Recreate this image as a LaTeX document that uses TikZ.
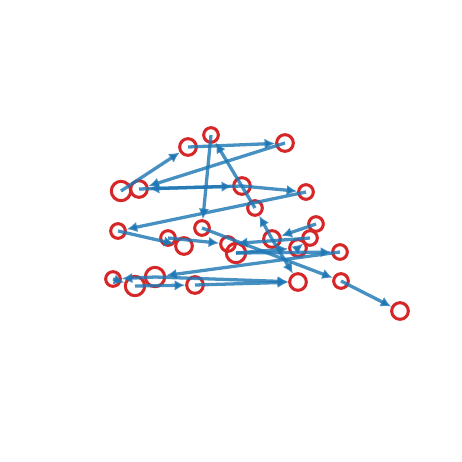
\documentclass[tikz,border=0pt]{standalone}
\usepackage{xcolor}
\usetikzlibrary{arrows.meta,positioning,shapes}
\definecolor{netred}{RGB}{214,39,40}
\definecolor{netblue}{RGB}{31,119,180}

\begin{document}
\begin{tikzpicture}[x = 0.03cm, y = -0.03cm,
		red_node/.style = {circle, draw = netred, line width = 2.6pt, inner sep = 0pt, minimum size = 0.5cm},
		big_node/.style = {red_node, minimum size = 0.58cm},
		small_node/.style = {red_node, minimum size = 0.44cm},
		edge/.style = {->, draw = netblue, draw opacity = 0.82, line width = 2.8pt},
		>={Latex[length = 9pt, width = 9pt]},
		]
		\useasboundingbox (0,0) rectangle (462,462);
		
		%top
		\node[big_node] at (121,191) (1){};
		\node[red_node] at (139,189) (2){};
		\node[red_node] at (188,147) (3){};
		\node[small_node] at (211,135) (4){};
		\node[red_node] at (285,143) (5){};
		\node[red_node] at (242,186) (6){};
		\node[small_node] at (306,192) (7){};
		\node[small_node] at (255,208) (8){};
		
		%middle
		\node[small_node] at (118,231) (9){};
		\node[small_node] at (168,238) (10){};
		\node[red_node] at (184,246) (11){};
		\node[small_node] at (202,228) (12){};
		\node[small_node] at (228,244) (13){};
		\node[big_node] at (236,253) (14){};
		\node[red_node] at (272,239) (15){};
		\node[red_node] at (298,248) (16){};
		\node[small_node] at (316,224) (17){};
		\node[small_node] at (310,238) (18){};
		\node[small_node] at (340,252) (19){};
		
		%bottom
		\node[small_node] at (341,281) (20){};
		\node[red_node] at (400,311) (21){};
		\node[red_node] at (298,282) (22){};
		\node[red_node] at (195,285) (23){};
		\node[big_node] at (155,277) (24){};
		\node[big_node] at (135,286) (25){};
		\node[small_node] at (113,279) (26){};
		
		%edges
		\draw[edge] (1.center) to (3);
		\draw[edge] (3.center) to (5);
		\draw[edge] (5.center) to (2);
		\draw[edge] (2.center) to (6);
		\draw[edge] (6.center) to (2);
		\draw[edge] (6.center) to (7);
		\draw[edge] (7.center) to (9);
		\draw[edge] (4.center) to (12);
		\draw[edge] (8.center) to (4);
		\draw[edge] (15.center) to (8);
		\draw[edge] (9.center) to (11);
		\draw[edge] (10.center) to (13);
		\draw[edge] (12.center) to (20);
		\draw[edge] (20.center) to (21);
		\draw[edge] (15.center) to (22);
		\draw[edge] (23.center) to (22);
		\draw[edge] (24.center) to (22);
		\draw[edge] (19.center) to (24);
		\draw[edge] (14.center) to (19);
		\draw[edge] (14.center) to (16);
		\draw[edge] (17.center) to (15);
		\draw[edge] (18.center) to (13);
		\draw[edge] (16.center) to (18);
		\draw[edge] (24.center) to (26);
		\draw[edge] (25.center) to (23);
		\draw[edge] (26.center) to (25);

\end{tikzpicture}
\end{document}
